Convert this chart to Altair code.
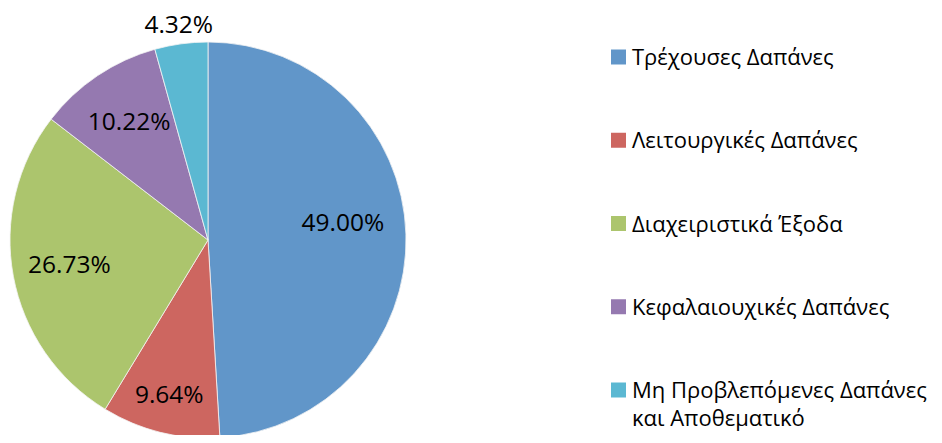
import altair as alt
import pandas as pd

categories = ["Τρέχουσες Δαπάνες", "Λειτουργικές Δαπάνες", "Διαχειριστικά Έξοδα",
              "Κεφαλαιουχικές Δαπάνες", "Μη Προβλεπόμενες Δαπάνες και Αποθεματικό"]
legend_labels = ["Τρέχουσες Δαπάνες", "Λειτουργικές Δαπάνες", "Διαχειριστικά Έξοδα",
                 "Κεφαλαιουχικές Δαπάνες", "Μη Προβλεπόμενες Δαπάνες\nκαι Αποθεματικό"]
shares = [49.00, 9.64, 26.73, 10.22, 4.32]
colors = ["#6196c9", "#cd6660", "#acc56d", "#9579b0", "#5bb8d2"]

df = pd.DataFrame({"category": categories, "legend": legend_labels,
                   "share": shares, "idx": list(range(len(categories)))})

FONT = "Open Sans"
PCT_SIZE = 24.5
LEG_SIZE = 22
CX, CY, R = 200, 232, 198

color = alt.Color("category:N", scale=alt.Scale(domain=categories, range=colors), legend=None)
tscale = alt.Scale(domain=[0, 1], range=[0, 6.283185307179586])

base = (
    alt.Chart(df)
    .transform_joinaggregate(total="sum(share)")
    .transform_window(cum="sum(share)", sort=[alt.SortField("idx")])
    .transform_calculate(
        start="(datum.cum - datum.share) / datum.total",
        end="datum.cum / datum.total",
        mid="(datum.cum - datum.share / 2) / datum.total",
        label="format(datum.share, '.2f') + '%'",
    )
)

pie = base.mark_arc(outerRadius=R, stroke="#f4f4f4", strokeWidth=0.8).encode(
    theta=alt.Theta("start:Q", scale=tscale),
    theta2="end:Q",
    color=color,
    x=alt.value(CX), y=alt.value(CY),
)

def label_layer(test, radius, dy=0):
    return base.transform_filter(test).mark_text(
        radius=radius, font=FONT, fontSize=PCT_SIZE, color="#000000",
        align="center", baseline="middle", dy=dy,
    ).encode(
        theta=alt.Theta("mid:Q", scale=tscale, stack=False),
        text="label:N",
        x=alt.value(CX), y=alt.value(CY),
    )

lab_a = label_layer("datum.idx == 0", 135, -12)
lab_b = label_layer("datum.idx == 2 || datum.idx == 3", 141)
lab_c = label_layer("datum.idx == 1", 161)
lab_d = label_layer("datum.idx == 4", 216)

yleg = alt.Y("category:N", scale=alt.Scale(type="point", domain=categories, range=[49, 382], padding=0), axis=None)

leg_sym = alt.Chart(df).mark_square(size=225, opacity=1).encode(
    y=yleg, x=alt.value(610.5), color=color,
)
leg_txt = alt.Chart(df).mark_text(
    align="left", baseline="alphabetic", dy=8, lineBreak="\n", lineHeight=28,
    font=FONT, fontSize=LEG_SIZE, color="#000000",
).encode(y=yleg, x=alt.value(624), text="legend:N")

chart = (
    alt.layer(pie, lab_a, lab_b, lab_c, lab_d, leg_sym, leg_txt)
    .properties(width=926, height=427, padding=0, autosize=alt.AutoSizeParams(type="none"))
    .configure_view(stroke=None)
)

chart.save("out.html", embed_options={"renderer": "svg", "actions": False})
